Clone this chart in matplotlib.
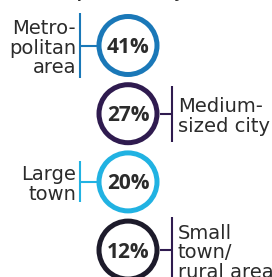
import matplotlib.pyplot as plt
from matplotlib.patches import Circle

categories = ['Metro-\npolitan\narea', 'Medium-\nsized city', 'Large\ntown', 'Small\ntown/\nrural area']
shares = [41, 27, 20, 12]
circle_colors = ['#1a78b8', '#2f1b4f', '#21b2e2', '#1d1b2b']
line_colors = ['#1a78b8', '#2f1b4f', '#21b2e2', '#2f1b4f']

text_color = '#2b2b2b'

W, H = 272, 277
fig = plt.figure(figsize=(W / 100, H / 100), dpi=100)
ax = fig.add_axes([0, 0, 1, 1])
ax.set_xlim(0, W)
ax.set_ylim(H, 0)
ax.axis('off')

cx = 128
r = 29
step = 68.2
y0 = 45.5
bracket_half = [32.5, 28, 20.5, 33]
line_gap = 19.5
cap = 14.5

# title cut off at the top edge, only descenders show
ax.text(-21, -3, 'Share of respondents, by settlement size', fontsize=12, fontweight='bold',
        family='Open Sans', color=text_color, ha='left', va='baseline')

for i, (cat, val) in enumerate(zip(categories, shares)):
    cy = y0 + i * step
    ax.add_patch(Circle((cx, cy), r, fill=False, edgecolor=circle_colors[i], lw=3.6))
    ax.text(cx, cy + 7.5, f'{val}%', fontsize=15, fontweight='bold', family='Open Sans',
            color=text_color, ha='center', va='baseline')

    left = i % 2 == 0
    bx = 80 if left else 172
    edge = cx - r - 2.5 if left else cx + r + 2.5
    ax.plot([bx, bx], [cy - bracket_half[i], cy + bracket_half[i]], color=line_colors[i], lw=1.5,
            solid_capstyle='butt')
    ax.plot([bx, edge], [cy, cy], color=line_colors[i], lw=1.5, solid_capstyle='butt')

    lines = cat.split('\n')
    n = len(lines)
    first = cy + 1 - (cap + (n - 1) * line_gap) / 2 + cap
    tx = 76 if left else 178
    for j, ln in enumerate(lines):
        ax.text(tx, first + j * line_gap, ln, fontsize=14, family='DejaVu Sans',
                color=text_color, ha='right' if left else 'left', va='baseline')

fig.savefig('out.png', dpi=100)
